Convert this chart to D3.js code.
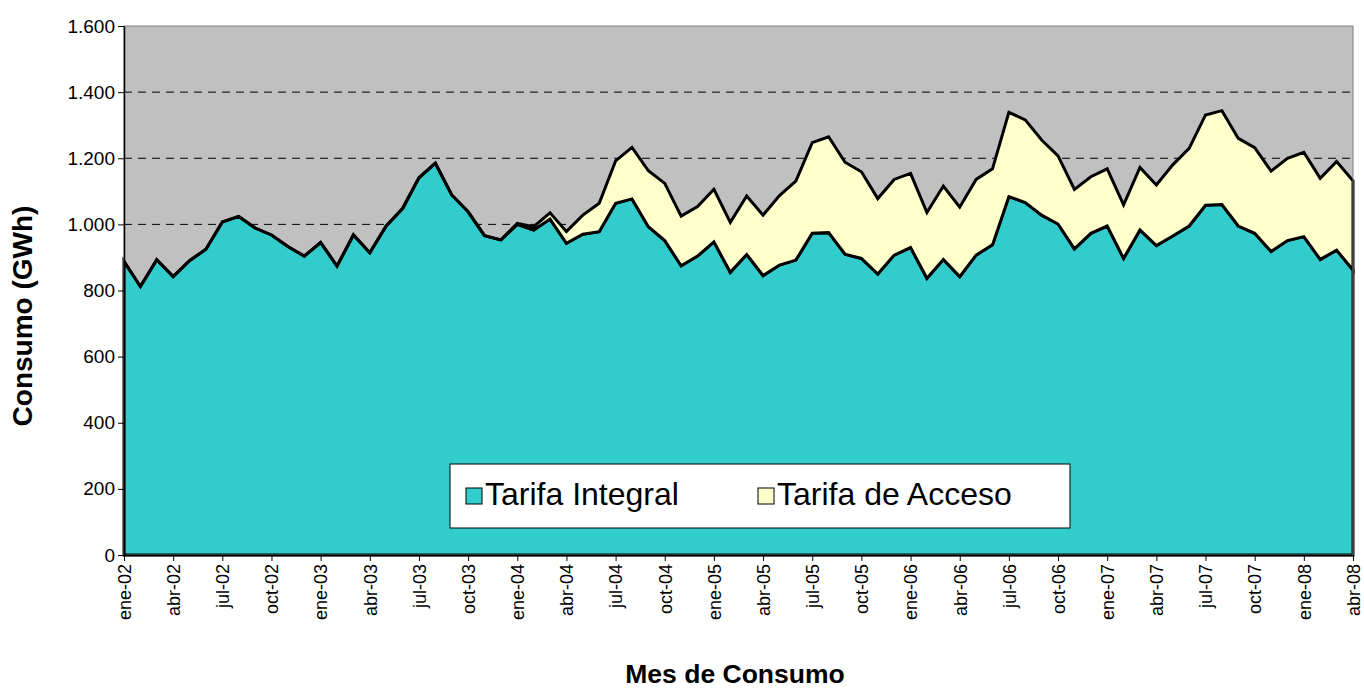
<!DOCTYPE html>
<html>
<head>
<meta charset="utf-8">
<script src="https://cdn.jsdelivr.net/npm/d3@7"></script>
<style>
  body { margin: 0; background: #fff; }
  text { font-family: Arial, "Liberation Sans", sans-serif; }
</style>
</head>
<body>
<div id="chart"></div>
<script>
// meses de consumo: ene-02 ... abr-08
const meses = ["ene", "feb", "mar", "abr", "may", "jun", "jul", "ago", "sep", "oct", "nov", "dic"];
const anios = ["02", "03", "04", "05", "06", "07", "08"];
const categorias = [];
anios.forEach((a, j) => meses.forEach((m, k) => {
  if (j < 6 || k < 4) categorias.push(m + "-" + a);
}));

// GWh
const tarifaIntegral = [
  888, 812, 893, 842, 890, 925, 1007, 1024, 989, 968, 933, 904,
  945, 874, 968, 914, 995, 1048, 1141, 1185, 1089, 1038, 966, 953,
  1000, 983, 1016, 943, 970, 978, 1064, 1077, 993, 951, 875, 904,
  947, 855, 909, 845, 877, 892, 973, 975, 910, 897, 850, 907,
  930, 837, 894, 842, 907, 938, 1084, 1066, 1028, 1001, 926, 973,
  995, 897, 983, 936, 965, 995, 1058, 1060, 995, 973, 918, 951,
  963, 894, 922, 862
];
const tarifaAcceso = [
  0, 0, 0, 0, 0, 0, 0, 0, 0, 0, 0, 0,
  0, 0, 0, 0, 0, 0, 0, 0, 0, 0, 0, 0,
  3, 10, 19, 35, 58, 86, 128, 156, 169, 173, 150, 150,
  159, 151, 177, 183, 210, 239, 274, 290, 278, 262, 228, 229,
  224, 199, 222, 210, 229, 230, 255, 250, 227, 206, 180, 171,
  173, 162, 189, 183, 215, 235, 273, 284, 265, 259, 243, 249,
  255, 245, 268, 270
];
const series = ["Tarifa Integral", "Tarifa de Acceso"];
const colores = ["#33CCCC", "#FFFFCC"];
const yTicks = [0, 200, 400, 600, 800, 1000, 1200, 1400, 1600];

const width = 1364, height = 688;
const margin = {top: 26, right: 11, bottom: 133, left: 124};

const tabla = categorias.map((c, i) => ({
  mes: c, "Tarifa Integral": tarifaIntegral[i], "Tarifa de Acceso": tarifaAcceso[i]
}));

const x = d3.scalePoint().domain(categorias).range([margin.left, width - margin.right]);
const y = d3.scaleLinear().domain([0, 1600]).range([height - margin.bottom, margin.top]);

const es = d3.formatLocale({decimal: ",", thousands: ".", grouping: [3], currency: ["", " €"]});
const fmt = es.format(",d");

const svg = d3.select("#chart").append("svg")
  .attr("width", width).attr("height", height);

// fondo del area de trazado
svg.append("rect")
  .attr("x", margin.left).attr("y", margin.top)
  .attr("width", width - margin.right - margin.left)
  .attr("height", y(0) - margin.top)
  .attr("fill", "#C0C0C0");

// lineas de division
svg.append("g")
  .selectAll("line")
  .data(yTicks.filter(d => d > 0 && d < 1600))
  .join("line")
  .attr("x1", margin.left).attr("x2", width - margin.right)
  .attr("y1", d => y(d)).attr("y2", d => y(d))
  .attr("stroke", "#000").attr("stroke-width", 1)
  .attr("stroke-dasharray", "8,6");

const stack = d3.stack().keys(series)(tabla);

const area = d3.area()
  .x(d => x(d.data.mes))
  .y0(d => y(d[0]))
  .y1(d => y(d[1]));

svg.append("g")
  .selectAll("path")
  .data(stack)
  .join("path")
  .attr("d", area)
  .attr("fill", (d, i) => colores[i])
  .attr("stroke", "#000")
  .attr("stroke-width", 3);

// borde del area de trazado
svg.append("rect")
  .attr("x", margin.left).attr("y", margin.top)
  .attr("width", width - margin.right - margin.left)
  .attr("height", y(0) - margin.top)
  .attr("fill", "none")
  .attr("stroke", "#808080").attr("stroke-width", 1);

// eje Y
const yAxis = svg.append("g")
  .attr("transform", `translate(${margin.left},0)`)
  .call(d3.axisLeft(y).tickValues(yTicks).tickFormat(fmt).tickSize(6).tickSizeOuter(0));
yAxis.select(".domain").attr("stroke", "#000").attr("stroke-width", 1.5);
yAxis.selectAll(".tick line").attr("stroke", "#000");
yAxis.selectAll(".tick text")
  .attr("x", -9)
  .attr("font-size", 19)
  .attr("font-family", "Arial, 'Liberation Sans', sans-serif")
  .attr("fill", "#000");

// eje X
const xAxis = svg.append("g")
  .attr("transform", `translate(0,${y(0)})`)
  .call(d3.axisBottom(x)
    .tickValues(categorias.filter((c, i) => i % 3 === 0))
    .tickSize(6).tickSizeOuter(0));
xAxis.select(".domain").attr("stroke", "#000").attr("stroke-width", 1.5);
xAxis.selectAll(".tick line").attr("stroke", "#000");
xAxis.selectAll(".tick text")
  .attr("transform", "rotate(-90)")
  .attr("x", -9).attr("y", 0).attr("dy", "0.35em")
  .attr("text-anchor", "end")
  .attr("font-size", 18)
  .attr("font-family", "Arial, 'Liberation Sans', sans-serif")
  .attr("fill", "#000");

// titulos de ejes
svg.append("text")
  .attr("transform", "translate(32,316) rotate(-90)")
  .attr("text-anchor", "middle")
  .attr("font-size", 28).attr("font-weight", "bold")
  .text("Consumo (GWh)");

svg.append("text")
  .attr("x", 735)
  .attr("y", 683)
  .attr("text-anchor", "middle")
  .attr("font-size", 26.5).attr("font-weight", "bold")
  .text("Mes de Consumo");

// leyenda
const leyenda = svg.append("g").attr("transform", "translate(450,464)");
leyenda.append("rect")
  .attr("width", 620).attr("height", 64)
  .attr("fill", "#fff").attr("stroke", "#000").attr("stroke-width", 1);
const item = leyenda.selectAll("g.item")
  .data(series)
  .join("g").attr("class", "item")
  .attr("transform", (d, i) => `translate(${16 + i * 292},24)`);
item.append("rect")
  .attr("width", 16).attr("height", 16)
  .attr("fill", (d, i) => colores[i])
  .attr("stroke", "#000").attr("stroke-width", 1);
item.append("text")
  .attr("x", 19).attr("y", 17)
  .attr("font-size", 32)
  .text(d => d);
</script>
</body>
</html>
